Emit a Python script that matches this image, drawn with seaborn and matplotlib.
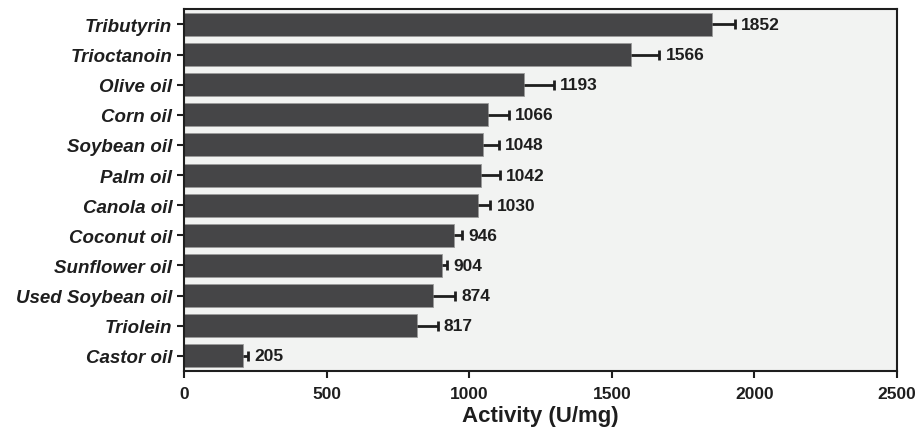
import numpy as np
import pandas as pd
import matplotlib
matplotlib.use("Agg")
import matplotlib.pyplot as plt
import seaborn as sns

substrates = ["Tributyrin", "Trioctanoin", "Olive oil", "Corn oil", "Soybean oil",
              "Palm oil", "Canola oil", "Coconut oil", "Sunflower oil",
              "Used Soybean oil", "Triolein", "Castor oil"]
activity = [1852, 1566, 1193, 1066, 1048, 1042, 1030, 946, 904, 874, 817, 205]
errors = [80, 100, 103, 73, 55, 64, 44, 30, 18, 75, 72, 19]

df = pd.DataFrame({"substrate": substrates, "activity": activity, "err": errors})
df["top"] = df["activity"] + df["err"]

sns.set_style("ticks")
plt.rcParams["font.family"] = ["Liberation Sans", "DejaVu Sans"]

fig, ax = plt.subplots(figsize=(9.21, 4.31), dpi=100)
fig.subplots_adjust(left=0.2, right=0.974, top=0.976, bottom=0.137)

sns.barplot(data=df, x="activity", y="substrate", orient="h", color="#454547",
            saturation=1, width=0.76, edgecolor="#9a9a9a", linewidth=0.6, ax=ax)
ax.set_facecolor("#f2f3f2")

# one-sided error bars: line from bar end, cap only at the far end
ypos = np.arange(len(substrates))
ax.hlines(ypos, df["activity"], df["top"], color="#1e1e1e", linewidth=2)
ax.scatter(df["top"], ypos, marker="|", s=45, linewidths=2, color="#1e1e1e", zorder=3)

for y, t, v in zip(ypos, df["top"], activity):
    ax.text(t + 22, y, str(v), va="center", ha="left",
            fontsize=12.5, fontweight="bold", color="#1e1e1e")

ax.set_xlim(0, 2500)
ax.set_ylim(len(substrates) - 0.5, -0.5)
ax.set_xticks([0, 500, 1000, 1500, 2000, 2500])
ax.set_xlabel("Activity (U/mg)", fontsize=16, fontweight="bold", color="#1e1e1e", labelpad=3)
ax.set_ylabel("")
for lab in ax.get_yticklabels():
    lab.set_fontstyle("italic")
    lab.set_fontweight("bold")
    lab.set_fontsize(13.5)
for lab in ax.get_xticklabels():
    lab.set_fontweight("bold")
    lab.set_fontsize(12.5)
ax.tick_params(axis="both", colors="#1e1e1e", width=1.5, length=5)
ax.tick_params(axis="x", pad=6)
for s in ax.spines.values():
    s.set_linewidth(1.5)
    s.set_color("#1e1e1e")

fig.savefig("out.png", dpi=100)
